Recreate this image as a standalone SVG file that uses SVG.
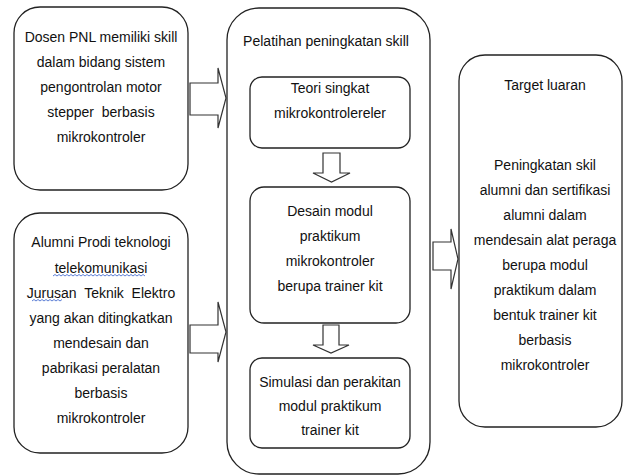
<svg xmlns="http://www.w3.org/2000/svg" width="629" height="476" viewBox="0 0 629 476">
<style>
.box{fill:#fff;stroke:#222;stroke-width:1.3}
.arr{fill:#fff;stroke:#333;stroke-width:1.2;stroke-linejoin:miter}
text{font-family:"Liberation Sans",Arial,sans-serif;font-size:14px;fill:#111;text-anchor:middle;white-space:pre}
.sq{fill:none;stroke:#4a6fd0;stroke-width:0.9}
</style>
<rect width="629" height="476" fill="#fff"/>
<g id="dosen">
<rect class="box" x="14" y="7" width="174" height="183" rx="26"/>
<text x="101" y="42">Dosen PNL memiliki skill</text>
<text x="101" y="67">dalam bidang sistem</text>
<text x="101" y="92">pengontrolan motor</text>
<text x="101" y="117">stepper  berbasis</text>
<text x="101" y="142">mikrokontroler</text>
</g>
<g id="alumni">
<rect class="box" x="14" y="213" width="174" height="240" rx="26"/>
<text x="101" y="247">Alumni Prodi teknologi</text>
<text x="101" y="273">telekomunikasi</text>
<text x="101" y="298">Jurusan  Teknik  Elektro</text>
<text x="101" y="323">yang akan ditingkatkan</text>
<text x="101" y="348">mendesain dan</text>
<text x="101" y="373">pabrikasi peralatan</text>
<text x="101" y="398">berbasis</text>
<text x="101" y="423">mikrokontroler</text>
<path class="sq" d="M53 276 l2 -1.5 l2 1.5 l2 -1.5 l2 1.5 l2 -1.5 l2 1.5 l2 -1.5 l2 1.5 l2 -1.5 l2 1.5 l2 -1.5 l2 1.5 l2 -1.5 l2 1.5 l2 -1.5 l2 1.5 l2 -1.5 l2 1.5 l2 -1.5 l2 1.5 l2 -1.5 l2 1.5 l2 -1.5 l2 1.5 l2 -1.5 l2 1.5 l2 -1.5 l2 1.5 l2 -1.5 l2 1.5 l2 -1.5 l2 1.5 l2 -1.5 l2 1.5 l2 -1.5 l2 1.5 l2 -1.5 l2 1.5 l2 -1.5 l2 1.5 l2 -1.5 l2 1.5 l2 -1.5 l2 1.5 l2 -1.5 l2 1.5"/>
<path class="sq" d="M32 301 l2 -1.5 l2 1.5 l2 -1.5 l2 1.5 l2 -1.5 l2 1.5 l2 -1.5 l2 1.5 l2 -1.5 l2 1.5 l2 -1.5 l2 1.5 l2 -1.5 l2 1.5 l2 -1.5"/>
</g>
<g id="pelatihan">
<rect class="box" x="227" y="8" width="203" height="466" rx="32"/>
<text x="326" y="46">Pelatihan peningkatan skill</text>
</g>
<g id="teori">
<rect class="box" x="250" y="77" width="160" height="71" rx="12"/>
<text x="330" y="93">Teori singkat</text>
<text x="330" y="118">mikrokontrolereler</text>
</g>
<g id="desain">
<rect class="box" x="250" y="187" width="160" height="136" rx="14"/>
<text x="330" y="216">Desain modul</text>
<text x="330" y="241">praktikum</text>
<text x="330" y="266">mikrokontroler</text>
<text x="330" y="291">berupa trainer kit</text>
</g>
<g id="simulasi">
<rect class="box" x="250" y="358" width="160" height="90" rx="12"/>
<text x="330" y="387">Simulasi dan perakitan</text>
<text x="330" y="411">modul praktikum</text>
<text x="330" y="435">trainer kit</text>
</g>
<g id="target">
<rect class="box" x="459" y="55" width="163" height="372" rx="26"/>
<text x="545" y="90">Target luaran</text>
<text x="545" y="170">Peningkatan skil</text>
<text x="545" y="195">alumni dan sertifikasi</text>
<text x="545" y="220">alumni dalam</text>
<text x="545" y="245">mendesain alat peraga</text>
<text x="545" y="270">berupa modul</text>
<text x="545" y="295">praktikum dalam</text>
<text x="545" y="320">bentuk trainer kit</text>
<text x="545" y="345">berbasis</text>
<text x="545" y="370">mikrokontroler</text>
</g>
<g id="connectors">
<path class="arr" d="M190 83 H218 V68 L226 98 L218 128 V115 H190 Z"/>
<path class="arr" d="M190 325 H218 V302 L226 332 L218 362 V353 H190 Z"/>
<path class="arr" d="M433 242 H451 V229 L458 259 L451 289 V270 H433 Z"/>
<path class="arr" d="M323 153 H340 V173 H350 L331.5 182 L313 173 H323 Z"/>
<path class="arr" d="M323 325 H339 V345 H349 L331 353 L313 345 H323 Z"/>
</g>
</svg>
